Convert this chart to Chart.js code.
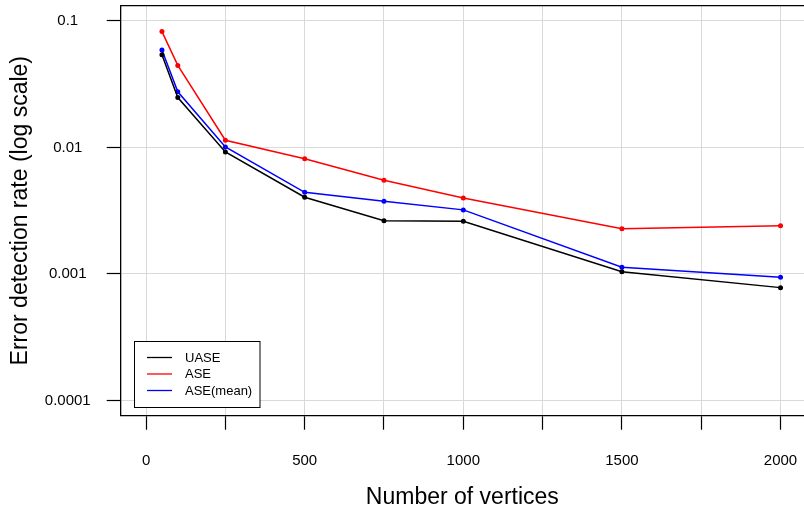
<!DOCTYPE html>
<html>
<head>
<meta charset="utf-8">
<script src="https://cdn.jsdelivr.net/npm/chart.js@4.4.1/dist/chart.umd.min.js"></script>
<style>
  html, body { margin: 0; padding: 0; background: #fff; }
  #wrap { width: 804px; height: 508px; }
</style>
</head>
<body>
<div id="wrap"><canvas id="errChart" width="804" height="508"></canvas></div>
<script>
// data
const vertices = [50, 100, 250, 500, 750, 1000, 1500, 2000];
const uase     = [0.0541, 0.0248, 0.0092, 0.00404, 0.00263, 0.00261, 0.00104, 0.00078];
const ase      = [0.0823, 0.0445, 0.0114, 0.00814, 0.00551, 0.00399, 0.00228, 0.00241];
const aseMean  = [0.0589, 0.0275, 0.0101, 0.00442, 0.00376, 0.00321, 0.00113, 0.00094];

const xTicks = [0, 250, 500, 750, 1000, 1250, 1500, 1750, 2000];
const yTicks = [0.0001, 0.001, 0.01, 0.1];
const yTickLabels = ["0.0001", "0.001", "0.01", "0.1"];

const toPoints = (ys) => vertices.map((x, i) => ({ x: x, y: ys[i] }));

const series = [
  { label: "UASE", values: uase, color: "#000000" },
  { label: "ASE", values: ase, color: "#ff0000" },
  { label: "ASE(mean)", values: aseMean, color: "#0000ff" },
];

const noPad = (scale) => {
  scale.paddingTop = 0;
  scale.paddingBottom = 0;
  scale.paddingLeft = 0;
  scale.paddingRight = 0;
};

// top frame line + R style legend box
const framePlugin = {
  id: "frame",
  afterDraw(chart) {
    const ctx = chart.ctx;
    const a = chart.chartArea;
    ctx.save();
    ctx.strokeStyle = "#000";
    ctx.lineWidth = 1.3;
    ctx.beginPath();
    ctx.moveTo(a.left, a.top);
    ctx.lineTo(a.right, a.top);
    ctx.stroke();

    // legend
    const lx = 134.5, ly = 341.5, lw = 125.5, lh = 66;
    ctx.fillStyle = "#fff";
    ctx.fillRect(lx, ly, lw, lh);
    ctx.lineWidth = 1;
    ctx.strokeRect(lx, ly, lw, lh);
    ctx.font = "13px 'Liberation Sans', Arial, sans-serif";
    ctx.textBaseline = "middle";
    ctx.textAlign = "left";
    chart.data.datasets.forEach((ds, i) => {
      const y = 357.5 + i * 16.5;
      ctx.strokeStyle = ds.borderColor;
      ctx.lineWidth = 1.3;
      ctx.beginPath();
      ctx.moveTo(147, y);
      ctx.lineTo(172, y);
      ctx.stroke();
      ctx.fillStyle = "#000";
      ctx.fillText(ds.label, 185, y + 0.5);
    });
    ctx.restore();
  }
};

new Chart(document.getElementById("errChart"), {
  type: "line",
  data: {
    datasets: series.map((s) => ({
      label: s.label,
      data: toPoints(s.values),
      borderColor: s.color,
      backgroundColor: s.color,
      borderWidth: 1.5,
      pointRadius: 2.5,
      pointBorderWidth: 0,
      tension: 0,
    })),
  },
  options: {
    responsive: false,
    animation: false,
    devicePixelRatio: 1,
    layout: { autoPadding: false, padding: { top: 5.7, left: 0, right: 0, bottom: 0 } },
    plugins: { legend: { display: false }, tooltip: { enabled: false } },
    scales: {
      x: {
        type: "linear",
        min: -80,
        max: 2074,
        afterBuildTicks: (scale) => { scale.ticks = xTicks.map((v) => ({ value: v })); },
        afterFit: (scale) => { scale.height = 92.3; noPad(scale); },
        ticks: {
          autoSkip: false,
          maxRotation: 0,
          padding: 22,
          color: "#000",
          font: { family: "'Liberation Sans', Arial, sans-serif", size: 15 },
          callback: (v) => (v % 500 === 0 ? String(v) : ""),
        },
        grid: { color: "#d9d9d9", lineWidth: 1, tickColor: "#000", tickLength: 14, tickWidth: 1.2 },
        border: { display: true, color: "#000", width: 1.3 },
        title: {
          display: true,
          text: "Number of vertices",
          color: "#000",
          font: { family: "'Liberation Sans', Arial, sans-serif", size: 23, lineHeight: 0.9 },
          padding: { top: 0, bottom: 0 },
        },
      },
      y: {
        type: "logarithmic",
        min: Math.pow(10, -4.12),
        max: Math.pow(10, -0.88),
        afterBuildTicks: (scale) => { scale.ticks = yTicks.map((v) => ({ value: v })); },
        afterFit: (scale) => { scale.width = 120.7; noPad(scale); },
        ticks: {
          autoSkip: false,
          crossAlign: "center",
          padding: 16,
          color: "#000",
          font: { family: "'Liberation Sans', Arial, sans-serif", size: 15 },
          callback: (v) => {
            const i = yTicks.findIndex((t) => Math.abs(t - v) / t < 1e-6);
            return i >= 0 ? yTickLabels[i] : "";
          },
        },
        grid: { color: "#d9d9d9", lineWidth: 1, tickColor: "#000", tickLength: 14, tickWidth: 1.2 },
        border: { display: true, color: "#000", width: 1.3 },
        title: {
          display: true,
          text: "Error detection rate (log scale)",
          color: "#000",
          font: { family: "'Liberation Sans', Arial, sans-serif", size: 23, lineHeight: 0.9 },
          padding: { top: 10, bottom: 0 },
        },
      },
    },
  },
  plugins: [framePlugin],
});
</script>
</body>
</html>
